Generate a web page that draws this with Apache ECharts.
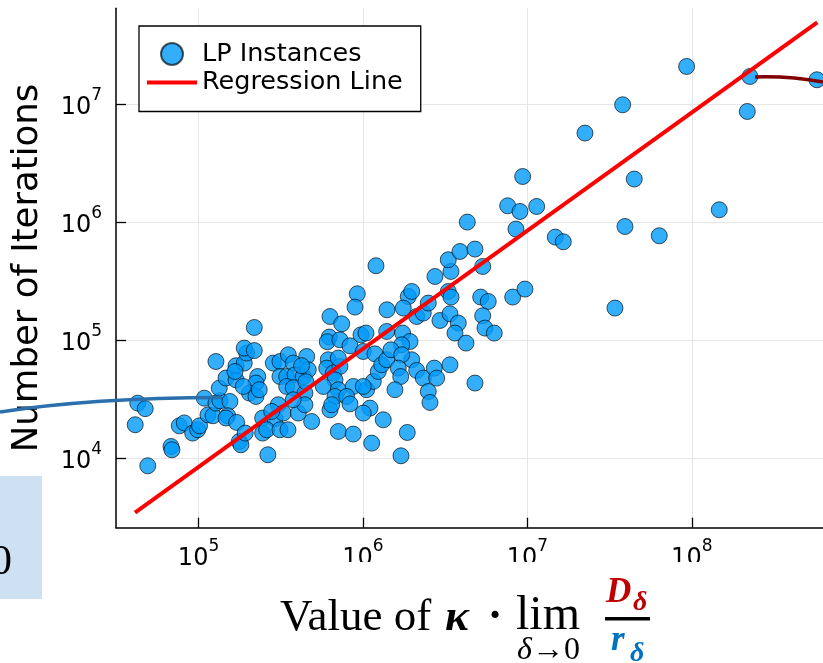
<!DOCTYPE html>
<html><head><meta charset="utf-8">
<script src="https://cdn.jsdelivr.net/npm/echarts@6.0.0/dist/echarts.min.js"></script>
<style>html,body{margin:0;padding:0;background:#fff;}#c{width:823px;height:663px;}</style>
</head><body><div id="c"></div>
<script>
// ---- data ----
const instX = [42700,47400,41200,49100,68000,68900,76400,81900,92100,98800,101400,108400,114200,122400,127600,127600,135000,133700,146900,169000,155200,150400,146900,170600,177000,181100,192300,169000,189700,196300,189700,218300,229000,223400,204000,223400,234000,245500,245500,264000,218300,187100,166600,
284900,312800,351600,376700,312800,343600,386000,433500,343600,376700,443600,454800,465000,423600,
291700,259700,312800,350000,305500,327700,404300,443600,487500,376700,450000,278600,
630000,742500,923600,894400,1200000,624000,606700,724400,833700,973000,1043000,1004000,1183000,1394000,1400000,615000,601700,660000,724400,676000,574000,708000,676000,873000,796000,1053000,1156000,1239000,1300000,1394000,833700,630000,645200,1103000,1004000,708000,873000,1329000,1130000,1004000,708000,
1744000,1932000,1720000,1480000,1979000,1720000,1640000,1696000,2122000,2327000,2716000,2807000,3382000,1565000,2496000,2556000,4800000,1860000,1703000,
1887000,1979000,1759000,2122000,2327000,2496000,2940000,3303000,3430000,3382000,3800000,3628000,4232000,5200000,5782000,5348000,5520000,6290000,2742000,3430000,3303000,3890000,4800000,5348000,4310000,7586000,9016000,8520000,9363000,8140000,9667000,11390000,14780000,16530000,22400000,37970000,44670000,39220000,63400000,34100000,93000000,146900000,217500000,225800000,577000000];
const instY = [29400,26400,19300,8670,12640,11850,18900,20000,16400,17500,18900,32400,23400,23000,66200,29400,30800,39400,48000,46300,30400,23000,22000,20200,13930,13060,16400,61000,64200,78000,86000,82000,49400,43500,35800,33500,38200,22000,16400,10750,128500,40700,54500,
64200,66200,75500,64200,49400,49400,51100,49400,40700,39700,35800,73000,56400,61000,
21700,17500,17500,17500,28500,24230,24230,28500,20560,31400,44600,25000,
159200,138100,247700,191200,428000,106600,97300,101100,89900,111400,115200,80500,76900,118900,181500,68500,58200,52800,60100,46300,40700,38200,33500,40700,33500,38200,44900,54500,62100,68500,29000,25800,28500,26700,24230,16930,16090,21260,13490,40700,70800,
115200,97800,91700,83200,68500,75500,58200,49400,55600,47900,58200,47900,62100,38200,36900,29800,43500,16600,10540,
235000,259300,187600,159200,170100,206800,147300,259300,232400,167800,140000,115200,94800,232400,213300,161400,127000,115200,347300,383000,481000,565300,592300,422000,1003000,1377000,1233000,875000,2438000,232400,271600,1359000,748600,683000,5682000,9867000,2319000,920000,767800,187600,20820000,1274000,8660000,17130000,16070000];
const regX = [41070, 579400000];
const regY = [3479, 49090000];
const xTicks = [1e5, 1e6, 1e7, 1e8];
const yTicks = [1e4, 1e5, 1e6, 1e7];
const xRange = [31480, 628000000];
const yRange = [2594, 64700000];
const seriesNames = ['LP Instances', 'Regression Line'];
const yTitle = 'Number of Iterations';

// ---- chart ----
const chart = echarts.init(document.getElementById('c'), null, {renderer: 'canvas'});
const sans = 'DejaVu Sans';
const serif = '"Liberation Serif", "DejaVu Serif", serif';
function supFmt(v) { const e = Math.round(Math.log10(v)); return '{b|10}{s|' + e + '}'; }
const richLbl = {
  b: {fontSize: 24, fontFamily: sans, color: '#000', padding: [7, 0, 0, 0]},
  s: {fontSize: 17, fontFamily: sans, color: '#000', padding: [0, 0, 18, 0]}
};
function mkText(txt, x, y, font, fill, align) {
  return {type: 'text', x: x, y: y, z: 60, silent: true,
    style: {text: txt, font: font, fill: fill, align: align || 'left', verticalAlign: 'middle',
            textAlign: align || 'left', textVerticalAlign: 'middle'}};
}
// thin horizontal bar icon (bounding box 50x22, bar 4px thick in the middle)
const lineIcon = 'path://M0,0 M0,9 L50,9 L50,13 L0,13 Z M50,22';

const option = {
  animation: false,
  backgroundColor: '#fff',
  grid: {left: 116, top: 8.3, right: 0, bottom: 135.3, containLabel: false, outerBoundsMode: 'none'},
  xAxis: {
    type: 'log', logBase: 10, min: xRange[0], max: xRange[1],
    axisLine: {show: true, lineStyle: {color: '#000', width: 1.5}},
    axisTick: {show: true, inside: true, length: 10, customValues: xTicks, lineStyle: {color: '#000', width: 1.3}},
    axisLabel: {customValues: xTicks, formatter: supFmt, margin: 10, rich: richLbl},
    splitLine: {show: true, lineStyle: {color: '#e6e6e6', width: 1}},
    minorTick: {show: false}, minorSplitLine: {show: false}
  },
  yAxis: {
    type: 'log', logBase: 10, min: yRange[0], max: yRange[1],
    name: yTitle, nameLocation: 'middle', nameGap: 70,
    nameTextStyle: {fontSize: 35.5, fontFamily: sans, color: '#000'},
    axisLine: {show: true, lineStyle: {color: '#000', width: 1.5}},
    axisTick: {show: true, inside: true, length: 10, customValues: yTicks, lineStyle: {color: '#000', width: 1.3}},
    axisLabel: {customValues: yTicks, formatter: supFmt, margin: 14, rich: richLbl},
    splitLine: {show: true, lineStyle: {color: '#e6e6e6', width: 1}},
    minorTick: {show: false}, minorSplitLine: {show: false}
  },
  legend: {
    left: 139, top: 26, orient: 'vertical', itemWidth: 50, itemHeight: 22, itemGap: 2.5,
    padding: [15, 18, 16, 8], borderColor: '#000', borderWidth: 1.3, backgroundColor: '#fff',
    selectedMode: false, textStyle: {fontSize: 25.5, fontFamily: sans, color: '#000'},
    data: [{name: seriesNames[0], icon: 'circle'}, {name: seriesNames[1], icon: lineIcon}]
  },
  series: [
    {
      type: 'scatter', name: seriesNames[0], symbol: 'circle', symbolSize: 16, z: 2,
      data: instX.map((x, i) => [x, instY[i]]),
      itemStyle: {color: 'rgba(0,154,250,0.8)', borderColor: 'rgba(0,0,0,0.65)', borderWidth: 1, opacity: 1}
    },
    {
      type: 'line', name: seriesNames[1], symbol: 'none', z: 3,
      data: regX.map((x, i) => [x, regY[i]]),
      lineStyle: {color: '#ff0000', width: 4}, itemStyle: {color: '#ff0000'}
    }
  ],
  graphic: {elements: [
    {type: 'rect', z: 50, silent: true, shape: {x: 235, y: 562, width: 600, height: 110}, style: {fill: '#fff'}},
    {type: 'rect', z: 50, silent: true, shape: {x: 0, y: 476, width: 42, height: 123}, style: {fill: '#CEE1F2'}},
    mkText('0', 12, 562.5, '43px ' + serif, '#000', 'right'),
    {type: 'bezierCurve', z: 60, silent: true, shape: {x1: 0, y1: 412, x2: 222, y2: 397.5, cpx1: 90, cpy1: 398},
      style: {stroke: '#2B6FAD', lineWidth: 3.5, fill: null}},
    {type: 'bezierCurve', z: 60, silent: true, shape: {x1: 755, y1: 77, x2: 823, y2: 82, cpx1: 790, cpy1: 76},
      style: {stroke: '#800000', lineWidth: 3.5, fill: null}},
    mkText('Value of', 280, 617.8, '45px ' + serif, '#000'),
    mkText('κ', 445, 618, 'italic bold 45px ' + serif, '#000'),
    mkText('·', 495, 618, 'bold 44px ' + serif, '#000', 'center'),
    mkText('lim', 548, 616.8, '48px ' + serif, '#000', 'center'),
    mkText('δ', 517, 650.8, 'italic 32px ' + serif, '#000'),
    mkText('→0', 532, 650.8, '32px ' + serif, '#000'),
    {type: 'rect', z: 60, silent: true, shape: {x: 605, y: 617, width: 45, height: 3.5}, style: {fill: '#000'}},
    mkText('D', 606, 593.2, 'italic bold 35px ' + serif, '#C00000'),
    mkText('δ', 633, 602.3, 'italic bold 28px ' + serif, '#C00000'),
    mkText('r', 611, 641.2, 'italic bold 35px ' + serif, '#0070C0'),
    mkText('δ', 630, 653.5, 'italic bold 28px ' + serif, '#0070C0')
  ]}
};
chart.setOption(option);
</script>
</body></html>
